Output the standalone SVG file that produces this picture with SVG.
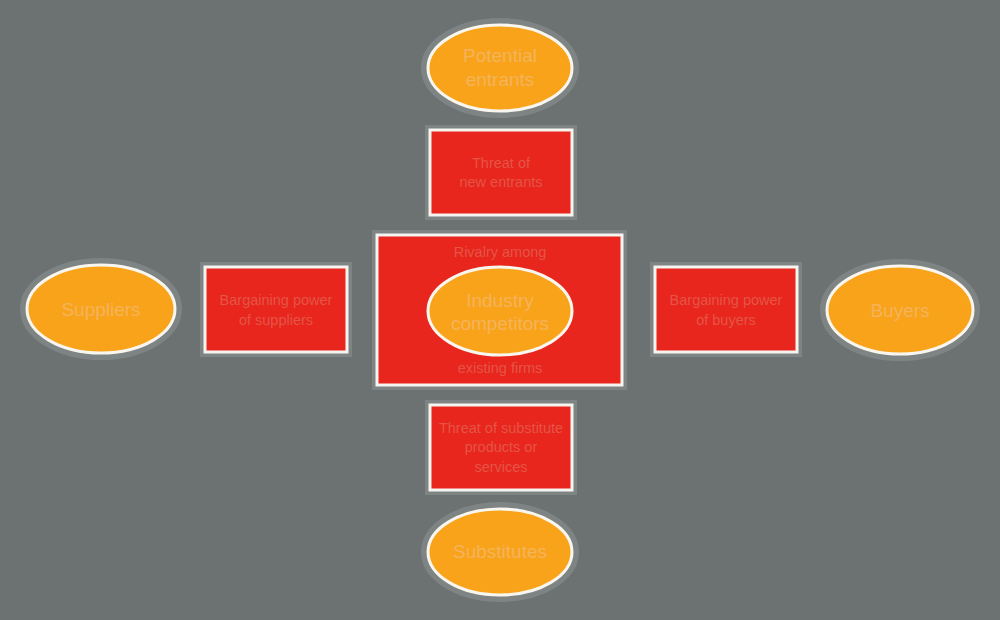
<svg xmlns="http://www.w3.org/2000/svg" width="1000" height="620" viewBox="0 0 1000 620">
<style>
.bg{fill:#6c7171}
.halo{fill:none;stroke:#a9aeac;stroke-width:8;opacity:0.3}
.box{fill:#e8261d;stroke:#f4f4f0;stroke-width:3}
.oval{fill:#f8a31a;stroke:#f8f6ee;stroke-width:3}
.inner{fill:#e8261d;stroke:#f4f4f0;stroke-width:3}
text{font-family:"Liberation Sans",Arial,sans-serif;text-anchor:middle}
.tb{fill:#e55446;font-size:14.5px}
.to{fill:#f5b35a;font-size:19px}
</style>
<rect class="bg" x="0" y="0" width="1000" height="620"/>
<g id="connectors"/>
<g id="potential-entrants">
<ellipse class="halo" cx="500" cy="68" rx="75" ry="46"/>
<ellipse class="oval" cx="500" cy="68" rx="72" ry="43"/>
<text class="to" x="500" y="62">Potential</text>
<text class="to" x="500" y="86">entrants</text>
</g>
<g id="threat-new-entrants">
<rect class="halo" x="429" y="129" width="144" height="87"/>
<rect class="box" x="430" y="130" width="142" height="85"/>
<text class="tb" x="501" y="168">Threat of</text>
<text class="tb" x="501" y="187">new entrants</text>
</g>
<g id="rivalry">
<rect class="halo" x="376" y="234" width="247" height="152"/>
<rect class="inner" x="377" y="235" width="245" height="150"/>
<text class="tb" x="500" y="257">Rivalry among</text>
<text class="tb" x="500" y="373">existing firms</text>
</g>
<g id="industry-competitors">
<ellipse class="oval" cx="500" cy="311" rx="72" ry="44"/>
<text class="to" x="500" y="307">Industry</text>
<text class="to" x="500" y="330">competitors</text>
</g>
<g id="suppliers">
<ellipse class="halo" cx="101" cy="309" rx="77" ry="47"/>
<ellipse class="oval" cx="101" cy="309" rx="74" ry="44"/>
<text class="to" x="101" y="316">Suppliers</text>
</g>
<g id="bargaining-suppliers">
<rect class="halo" x="204" y="266" width="144" height="87"/>
<rect class="box" x="205" y="267" width="142" height="85"/>
<text class="tb" x="276" y="305">Bargaining power</text>
<text class="tb" x="276" y="325">of suppliers</text>
</g>
<g id="bargaining-buyers">
<rect class="halo" x="654" y="266" width="144" height="87"/>
<rect class="box" x="655" y="267" width="142" height="85"/>
<text class="tb" x="726" y="305">Bargaining power</text>
<text class="tb" x="726" y="325">of buyers</text>
</g>
<g id="buyers">
<ellipse class="halo" cx="900" cy="310" rx="76" ry="47"/>
<ellipse class="oval" cx="900" cy="310" rx="73" ry="44"/>
<text class="to" x="900" y="317">Buyers</text>
</g>
<g id="threat-substitutes">
<rect class="halo" x="429" y="404" width="144" height="87"/>
<rect class="box" x="430" y="405" width="142" height="85"/>
<text class="tb" x="501" y="433">Threat of substitute</text>
<text class="tb" x="501" y="452">products or</text>
<text class="tb" x="501" y="472">services</text>
</g>
<g id="substitutes">
<ellipse class="halo" cx="500" cy="552" rx="75" ry="46"/>
<ellipse class="oval" cx="500" cy="552" rx="72" ry="43"/>
<text class="to" x="500" y="558">Substitutes</text>
</g>
</svg>
